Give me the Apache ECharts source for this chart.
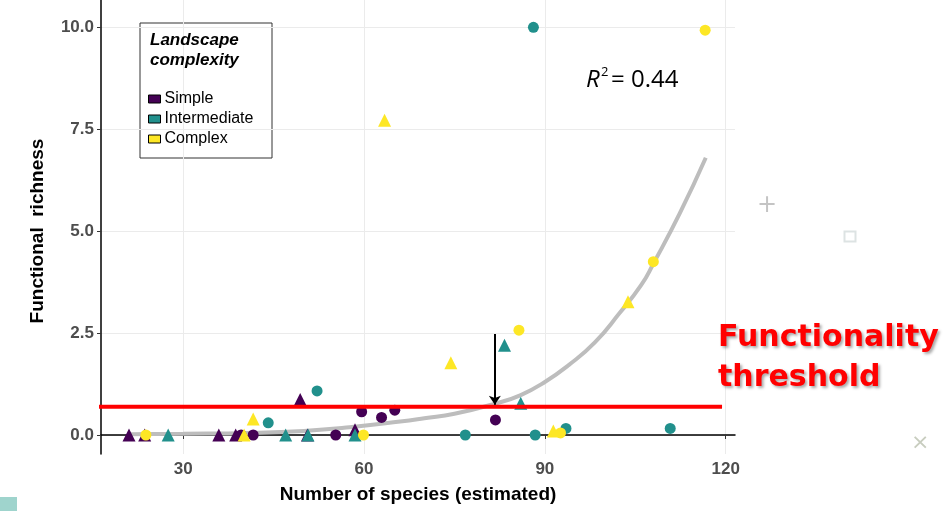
<!DOCTYPE html>
<html>
<head>
<meta charset="utf-8">
<script src="https://cdn.jsdelivr.net/npm/echarts@6/dist/echarts.min.js"></script>
<style>
  html, body { margin: 0; padding: 0; background: #fff; }
  #chart { width: 945px; height: 511px; }
</style>
</head>
<body>
<div id="chart"></div>
<script>
// points: [species, functional richness]
const simpleCircles = [[39.6, 0], [41.6, 0], [55.3, 0], [59.6, 0.57], [62.9, 0.43], [65.1, 0.61], [81.8, 0.37]];
const simpleTriangles = [[21.0, 0], [23.6, 0], [35.9, 0], [38.7, 0], [49.4, 0.87], [50.6, 0], [58.5, 0.13]];
const interCircles = [[44.1, 0.3], [52.2, 1.08], [76.8, 0], [88.1, 10.0], [88.4, 0], [93.5, 0.16], [110.8, 0.16]];
const interTriangles = [[27.5, 0], [47.0, 0], [50.7, 0], [58.5, 0], [83.3, 2.2], [86.0, 0.78]];
const complexCircles = [[23.8, 0], [59.9, 0], [85.7, 2.57], [92.6, 0.05], [108.0, 4.25], [116.6, 9.93]];
const complexTriangles = [[40.1, 0], [41.6, 0.39], [63.4, 7.72], [74.4, 1.77], [91.4, 0.1], [103.8, 3.27]];

// fitted curve, read at a few x positions
const fitX = [21, 30, 41, 50, 57.6, 66, 70, 75, 82, 86, 90, 94, 98.3, 102.4, 106, 108, 112.4, 116.7];
const fitY = [0.02, 0.03, 0.05, 0.1, 0.19, 0.33, 0.41, 0.52, 0.78, 0.98, 1.3, 1.72, 2.27, 2.99, 3.68, 4.2, 5.44, 6.8];

const thresholdValue = 0.69;
const thresholdX = [15.8, 119.4];
const arrowX = 81.7;
const arrowFrom = 2.48;
const arrowTo = 0.74;

const groups = ['Simple', 'Intermediate', 'Complex'];
const groupColors = ['#440154', '#21908C', '#FDE725'];
const xTicks = [30, 60, 90, 120];
const yTicks = [0, 2.5, 5, 7.5, 10];

const chart = echarts.init(document.getElementById('chart'), null, {renderer: 'canvas'});

function pointSeries(name, color, symbol, size, data) {
    return {
        name: name,
        type: 'scatter',
        symbol: symbol,
        symbolSize: size,
        itemStyle: {color: color, opacity: 1},
        data: data,
        z: 3
    };
}

const option = {
    animation: false,
    grid: {left: 101, right: 210, top: 0, bottom: 57},
    legend: {
        data: groups,
        orient: 'vertical',
        left: 148,
        top: 91,
        padding: 0,
        icon: 'rect',
        itemWidth: 12,
        itemHeight: 8,
        itemGap: 4,
        itemStyle: {borderColor: '#000', borderWidth: 1},
        textStyle: {fontFamily: 'Liberation Sans', fontSize: 16, color: '#000', padding: [0, 0, 0, -1]},
        selectedMode: false
    },
    xAxis: {
        type: 'value',
        min: 16.35,
        max: 121.55,
        name: 'Number of species (estimated)',
        nameLocation: 'middle',
        nameGap: 31,
        nameTextStyle: {fontFamily: 'Liberation Sans', fontWeight: 'bold', fontSize: 19, color: '#000'},
        axisLine: {show: true, lineStyle: {color: '#000', width: 1.5}},
        axisTick: {show: true, length: 4, customValues: xTicks, lineStyle: {color: '#333'}},
        axisLabel: {customValues: xTicks, margin: 7, fontFamily: 'Liberation Sans', fontWeight: 'bold', fontSize: 17, color: '#4d4d4d'},
        splitLine: {show: true, lineStyle: {color: '#ebebeb', width: 1}}
    },
    yAxis: {
        type: 'value',
        min: -0.466,
        max: 10.67,
        name: 'Functional  richness',
        nameLocation: 'middle',
        nameGap: 54,
        nameTextStyle: {fontFamily: 'Liberation Sans', fontWeight: 'bold', fontSize: 19, color: '#000', padding: [0, 8, 0, 0]},
        axisLine: {show: true, lineStyle: {color: '#000', width: 1.5}},
        axisTick: {show: true, length: 4, customValues: yTicks, lineStyle: {color: '#333'}},
        axisLabel: {customValues: yTicks, margin: 7, fontFamily: 'Liberation Sans', fontWeight: 'bold', fontSize: 17, color: '#4d4d4d',
            formatter: v => v.toFixed(1)},
        splitLine: {show: true, lineStyle: {color: '#ebebeb', width: 1}}
    },
    series: [
        {
            name: 'fit',
            type: 'line',
            smooth: true,
            showSymbol: false,
            data: fitX.map((x, i) => [x, fitY[i]]),
            lineStyle: {color: '#bdbdbd', width: 4},
            z: 2
        },
        pointSeries(groups[0], groupColors[0], 'circle', 11, simpleCircles),
        pointSeries(groups[0], groupColors[0], 'triangle', 13, simpleTriangles),
        pointSeries(groups[1], groupColors[1], 'circle', 11, interCircles),
        pointSeries(groups[1], groupColors[1], 'triangle', 13, interTriangles),
        pointSeries(groups[2], groupColors[2], 'circle', 11, complexCircles),
        pointSeries(groups[2], groupColors[2], 'triangle', 13, complexTriangles),
        {
            name: 'threshold',
            type: 'line',
            clip: false,
            showSymbol: false,
            data: thresholdX.map(x => [x, thresholdValue]),
            lineStyle: {color: '#ff0000', width: 4},
            z: 4
        },
        {
            name: 'arrow',
            type: 'lines',
            coordinateSystem: 'cartesian2d',
            symbol: ['none', 'arrow'],
            symbolSize: 9,
            lineStyle: {color: '#000', width: 2, opacity: 1},
            data: [{coords: [[arrowX, arrowFrom], [arrowX, arrowTo]]}],
            z: 5
        }
    ],
    graphic: [
        {type: 'rect', left: 139.5, top: 22.5, shape: {width: 132, height: 135},
         style: {fill: '#fff', stroke: '#333', lineWidth: 1}, z: 0},
        {type: 'text', left: 150, top: 30, z: 10,
         style: {text: 'Landscape\ncomplexity', fontFamily: 'Liberation Sans', fontWeight: 'bold', fontStyle: 'italic',
                 fontSize: 17, lineHeight: 20.5, fill: '#000'}},
        {type: 'text', left: 586, top: 68, z: 10,
         style: {text: 'R', fontFamily: 'Open Sans', fontStyle: 'italic', fontSize: 24, fill: '#000'}},
        {type: 'text', left: 601, top: 66, z: 10,
         style: {text: '2', fontFamily: 'Open Sans', fontSize: 13, fill: '#000'}},
        {type: 'text', left: 611, top: 68, z: 10,
         style: {text: '= 0.44', fontFamily: 'Open Sans', fontSize: 24, fill: '#000'}},
        {type: 'text', left: 718, top: 318, z: 10,
         style: {text: 'Functionality\nthreshold', fontFamily: 'DejaVu Sans', fontWeight: 'bold', fontSize: 30, lineHeight: 40,
                 fill: '#ff0000', textShadowColor: 'rgba(0,0,0,0.35)', textShadowBlur: 3, textShadowOffsetX: 2, textShadowOffsetY: 2}},
        {type: 'text', left: 757, top: 194, z: 10,
         style: {text: '+', fontFamily: 'DejaVu Sans', fontSize: 24, fill: '#c4c4c4'}},
        {type: 'rect', left: 842, top: 229, shape: {width: 11, height: 10},
         style: {fill: 'none', stroke: '#dde3e3', lineWidth: 2}},
        {type: 'text', left: 911, top: 432, z: 10,
         style: {text: '×', fontFamily: 'DejaVu Sans', fontSize: 22, fill: '#c8cdbf'}},
        {type: 'rect', left: 0, top: 497, shape: {width: 17, height: 14},
         style: {fill: '#9fd4cd'}}
    ]
};

chart.setOption(option);
</script>
</body>
</html>
